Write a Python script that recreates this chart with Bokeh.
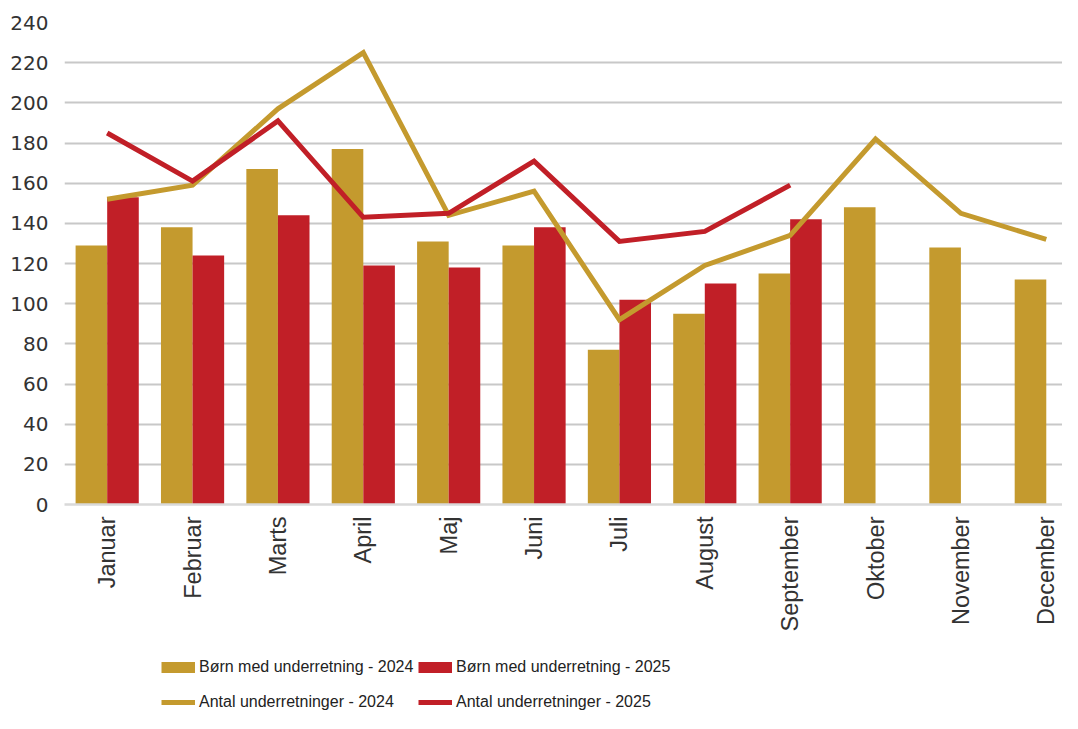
import numpy as np
from math import pi
from bokeh.plotting import figure
from bokeh.layouts import column
from bokeh.models import Range1d, FixedTicker, Legend, LegendItem
from bokeh.embed import file_html
from bokeh.resources import INLINE

# ---- data ----
months = ["Januar", "Februar", "Marts", "April", "Maj", "Juni", "Juli",
          "August", "September", "Oktober", "November", "December"]
born_2024 = [129, 138, 167, 177, 131, 129, 77, 95, 115, 148, 128, 112]
born_2025 = [153, 124, 144, 119, 118, 138, 102, 110, 142]
antal_2024 = [152, 159, 197, 225, 144, 156, 92, 119, 134, 182, 145, 132]
antal_2025 = [185, 161, 191, 143, 145, 171, 131, 136, 159]
y_ticks = list(range(0, 241, 20))
labels = ["Børn med underretning - 2024", "Børn med underretning - 2025",
          "Antal underretninger - 2024", "Antal underretninger - 2025"]

GOLD = "#C49A2E"
RED = "#C11F27"

x24 = np.arange(len(months)) + 0.5
x25 = np.arange(len(born_2025)) + 0.5

H1 = 645
p = figure(width=1062, height=H1, output_backend="svg", toolbar_location=None,
           x_range=Range1d(0, 11.69), y_range=Range1d(0, 240),
           min_border_left=64, min_border_right=0, min_border_top=22,
           min_border_bottom=H1 - 504)
p.outline_line_color = None
p.background_fill_color = "white"
p.border_fill_color = "white"

bw = 0.37
b24 = p.vbar(x=x24 - bw / 2, top=born_2024, width=bw, fill_color=GOLD, line_color=None)
b25 = p.vbar(x=x25 + bw / 2, top=born_2025, width=bw, fill_color=RED, line_color=None)
l24 = p.line(x24, antal_2024, line_width=5, line_color=GOLD, line_join="miter")
l25 = p.line(x25, antal_2025, line_width=5, line_color=RED, line_join="miter")

# axes
p.xaxis.ticker = FixedTicker(ticks=[float(v) for v in x24])
p.xaxis.major_label_overrides = {float(v): m for v, m in zip(x24, months)}
p.xaxis.major_label_orientation = pi / 2
p.xaxis.major_tick_line_color = None
p.xaxis.minor_tick_line_color = None
p.xaxis.axis_line_color = "#d9d9d9"
p.xaxis.axis_line_width = 2.5
p.xaxis.major_label_text_font = "Liberation Sans"
p.xaxis.major_label_text_font_size = "23.5px"
p.xaxis.major_label_text_color = "#333333"
p.xaxis.major_label_standoff = 6
p.xgrid.visible = False

p.yaxis.ticker = FixedTicker(ticks=y_ticks)
p.yaxis.axis_line_color = None
p.yaxis.major_tick_line_color = None
p.yaxis.minor_tick_line_color = None
p.yaxis.major_label_standoff = 10
p.yaxis.major_label_text_font = "DejaVu Sans"
p.yaxis.major_label_text_font_size = "20px"
p.yaxis.major_label_text_color = "#333333"
p.ygrid.grid_line_color = "#c8c8c8"
p.ygrid.grid_line_width = 2

# ---- legend strip below the chart ----
H2 = 713 - H1
lg = figure(width=1062, height=H2, output_backend="svg", toolbar_location=None,
            x_range=Range1d(-1000, -999), y_range=Range1d(-1000, -999),
            x_axis_location=None, y_axis_location=None, min_border=0)
lg.outline_line_color = None
lg.grid.visible = False
lg.background_fill_color = "white"
lg.border_fill_color = "white"

# legend swatches: same series, drawn outside this strip's visible range
sw_b24 = lg.line(x24, born_2024, line_width=11, line_color=GOLD)
sw_b25 = lg.line(x25, born_2025, line_width=11, line_color=RED)
sw_l24 = lg.line(x24, antal_2024, line_width=5, line_color=GOLD)
sw_l25 = lg.line(x25, antal_2025, line_width=5, line_color=RED)

common = dict(orientation="horizontal", glyph_width=34, glyph_height=22,
              label_height=22, label_width=215, label_standoff=4, spacing=4,
              padding=0, margin=0, border_line_color=None, background_fill_alpha=0,
              label_text_font="Liberation Sans", label_text_font_size="16px",
              label_text_color="#222222")
leg1 = Legend(items=[LegendItem(label=labels[0], renderers=[sw_b24]),
                     LegendItem(label=labels[1], renderers=[sw_b25])],
              location=(97, 35), **common)
leg2 = Legend(items=[LegendItem(label=labels[2], renderers=[sw_l24]),
                     LegendItem(label=labels[3], renderers=[sw_l25])],
              location=(97, 0), **common)
lg.add_layout(leg1, "center")
lg.add_layout(leg2, "center")

open("out.html", "w").write(file_html(column(p, lg, spacing=0), INLINE))
